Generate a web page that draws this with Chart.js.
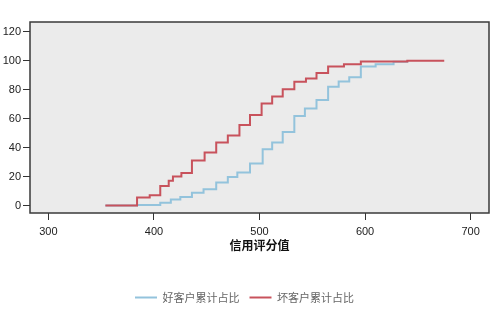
<!DOCTYPE html>
<html>
<head>
<meta charset="utf-8">
<script src="https://cdn.jsdelivr.net/npm/chart.js@4.4.0/dist/chart.umd.min.js"></script>
<style>
  html, body { margin: 0; padding: 0; background: #fff; }
  #wrap { width: 500px; height: 324px; }
</style>
</head>
<body>
<div id="wrap"><canvas id="chart" width="500" height="324"></canvas></div>
<script>
// 信用评分值 (x) / 累计占比 (%)
const goodScore = [354, 384, 406, 416, 425, 436, 447, 459, 470, 479, 491, 503, 512, 522, 533, 543, 554, 565, 575, 585, 596, 610, 627, 640];
const goodPct   = [0, 0.4, 1.8, 4.2, 5.8, 8.8, 11.2, 15.8, 19.7, 22.7, 29, 38.9, 43.5, 50.7, 61.8, 67, 72.8, 82, 85.6, 88.6, 96, 97.5, 99.2, 100];
const badScore  = [354, 384, 396, 406, 414, 418, 426, 436, 448, 459, 470, 481, 491, 502, 512, 522, 533, 544, 554, 565, 580, 596, 640, 675];
const badPct    = [0, 5.5, 7, 13.5, 17, 20, 22.5, 31, 36.5, 43.5, 48.3, 55.5, 62.5, 70.5, 75.3, 80.2, 85.5, 87.6, 91.4, 96, 97.5, 99.5, 100, 100];
const seriesNames = ['好客户累计占比', '坏客户累计占比'];
const xTicks = [300, 400, 500, 600, 700];
const yTicks = [0, 20, 40, 60, 80, 100, 120];

function toPoints(xs, ys) {
    return xs.map((x, i) => ({x: x, y: ys[i]}));
}

// plot background + box
const plotBox = {
    id: 'plotBox',
    beforeDatasetsDraw(chart) {
        const a = chart.chartArea, ctx = chart.ctx;
        ctx.save();
        ctx.fillStyle = '#ebebeb';
        ctx.fillRect(a.left, a.top, a.right - a.left, a.bottom - a.top);
        ctx.restore();
    },
    afterDatasetsDraw(chart) {
        const a = chart.chartArea, ctx = chart.ctx;
        ctx.save();
        ctx.strokeStyle = '#3a3a3a';
        ctx.lineWidth = 1.5;
        ctx.strokeRect(a.left, a.top, a.right - a.left, a.bottom - a.top);
        ctx.restore();
    }
};

const tickFont = {family: 'Liberation Sans, Arial, sans-serif', size: 11};

new Chart(document.getElementById('chart').getContext('2d'), {
    type: 'line',
    data: {
        datasets: [
            {
                label: seriesNames[0],
                data: toPoints(goodScore, goodPct),
                borderColor: '#93c3dc',
                backgroundColor: '#93c3dc',
                borderWidth: 2,
                stepped: true,
                pointRadius: 0,
                fill: false,
                order: 1
            },
            {
                label: seriesNames[1],
                data: toPoints(badScore, badPct),
                borderColor: '#c8525c',
                backgroundColor: '#c8525c',
                borderWidth: 2,
                stepped: true,
                pointRadius: 0,
                fill: false,
                order: 0
            }
        ]
    },
    options: {
        responsive: false,
        animation: false,
        layout: {padding: {top: 22, right: 11, left: 0, bottom: 11}},
        plugins: {
            tooltip: {enabled: false},
            legend: {
                position: 'bottom',
                labels: {
                    usePointStyle: true,
                    pointStyle: 'line',
                    pointStyleWidth: 22,
                    boxHeight: 2,
                    color: '#666',
                    padding: 10,
                    font: {family: 'Noto Sans CJK SC', size: 11},
                    sort: (a, b) => a.datasetIndex - b.datasetIndex
                }
            }
        },
        scales: {
            x: {
                type: 'linear',
                min: 282.6,
                max: 717.4,
                afterBuildTicks: (s) => { s.ticks = xTicks.map((v) => ({value: v})); },
                afterFit: (s) => { s.height = 69; },
                grid: {display: true, drawOnChartArea: false, drawTicks: true, tickLength: 7, color: '#333', lineWidth: 1},
                border: {display: false},
                ticks: {color: '#222', font: tickFont, padding: 5, maxRotation: 0},
                title: {
                    display: true,
                    text: '信用评分值',
                    color: '#111',
                    padding: {top: 0, bottom: 29},
                    font: {family: 'Noto Sans CJK SC', size: 12, weight: 'bold'}
                }
            },
            y: {
                min: -5.2,
                max: 126.7,
                afterBuildTicks: (s) => { s.ticks = yTicks.map((v) => ({value: v})); },
                afterFit: (s) => { s.width = 30; },
                grid: {display: true, drawOnChartArea: false, drawTicks: true, tickLength: 7, color: '#333', lineWidth: 1},
                border: {display: false},
                ticks: {color: '#222', font: tickFont, padding: 2}
            }
        }
    },
    plugins: [plotBox]
});
</script>
</body>
</html>
